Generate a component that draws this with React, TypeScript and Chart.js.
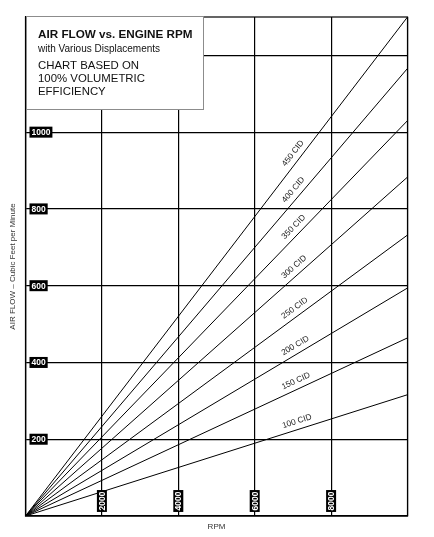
import React, { useEffect, useRef } from "react";
import { Chart, registerables } from "chart.js";

Chart.register(...registerables);

// ---- data ----
const rpmPoints = [0, 10000];
const displacementLabels = ["100 CID", "150 CID", "200 CID", "250 CID", "300 CID", "350 CID", "400 CID", "450 CID"];
const flow100 = [0, 316];
const flow150 = [0, 464];
const flow200 = [0, 594];
const flow250 = [0, 732];
const flow300 = [0, 883];
const flow350 = [0, 1030];
const flow400 = [0, 1166];
const flow450 = [0, 1300];
const flowSeries = [flow100, flow150, flow200, flow250, flow300, flow350, flow400, flow450];

const xTickValues = [0, 2000, 4000, 6000, 8000, 10000];
const xTickLabels = ["2000", "4000", "6000", "8000"];
const yTickValues = [0, 200, 400, 600, 800, 1000, 1200];
const yTickLabels = ["200", "400", "600", "800", "1000", "1200"];

const titleMain = "AIR FLOW vs. ENGINE RPM";
const titleSub = "with Various Displacements";
const titleNote = ["CHART BASED ON", "100% VOLUMETRIC", "EFFICIENCY"];
const xAxisTitle = "RPM";
const yAxisTitle = "AIR FLOW \u2013 Cubic Feet per Minute";

const FONT = '"Liberation Sans", Arial, sans-serif';
const LABEL_RPM_FRACTION = 0.717;

const overlayPlugin = {
  id: "overlay",
  afterDatasetsDraw(chart: any) {
    const { ctx, chartArea } = chart;
    const xs = chart.scales.x;
    const ys = chart.scales.y;
    ctx.save();
    // frame
    ctx.strokeStyle = "#000";
    ctx.lineWidth = 1.2;
    ctx.strokeRect(chartArea.left, chartArea.top, chartArea.right - chartArea.left, chartArea.bottom - chartArea.top);

    // line labels
    ctx.fillStyle = "#222";
    ctx.font = `8.3px ${FONT}`;
    ctx.textAlign = "center";
    ctx.textBaseline = "middle";
    chart.data.datasets.forEach((ds: any, i: number) => {
      const meta = chart.getDatasetMeta(i);
      const p0 = meta.data[0];
      const p1 = meta.data[1];
      const ax = p0.x + (p1.x - p0.x) * LABEL_RPM_FRACTION;
      const ay = p0.y + (p1.y - p0.y) * LABEL_RPM_FRACTION;
      const ang = Math.atan2(p1.y - p0.y, p1.x - p0.x);
      ctx.save();
      ctx.translate(ax, ay);
      ctx.rotate(ang);
      ctx.fillText(ds.label, 0, -8);
      ctx.restore();
    });

    // y tick labels (boxed)
    ctx.font = `bold 8.5px ${FONT}`;
    yTickLabels.forEach((t) => {
      const y = ys.getPixelForValue(Number(t));
      const w = ctx.measureText(t).width + 4;
      const x0 = chartArea.left + 4;
      ctx.fillStyle = "#000";
      ctx.fillRect(x0, y - 5.5, w, 11);
      ctx.fillStyle = "#fff";
      ctx.fillText(t, x0 + w / 2, y + 0.5);
    });

    // x tick labels (boxed, vertical)
    xTickLabels.forEach((t) => {
      const x = xs.getPixelForValue(Number(t));
      const w = ctx.measureText(t).width + 3;
      ctx.save();
      ctx.translate(x, chartArea.bottom - 15);
      ctx.rotate(-Math.PI / 2);
      ctx.fillStyle = "#000";
      ctx.fillRect(-w / 2, -5, w, 10);
      ctx.fillStyle = "#fff";
      ctx.fillText(t, 0, 0.5);
      ctx.restore();
    });

    // axis titles
    ctx.fillStyle = "#333";
    ctx.font = `8px ${FONT}`;
    ctx.fillText(xAxisTitle, (chartArea.left + chartArea.right) / 2, chartArea.bottom + 11);
    ctx.save();
    ctx.translate(13, (chartArea.top + chartArea.bottom) / 2);
    ctx.rotate(-Math.PI / 2);
    ctx.fillText(yAxisTitle, 0, 0);
    ctx.restore();

    // title box
    const bx = chartArea.left + 0.5;
    const by = 16;
    ctx.fillStyle = "#fff";
    ctx.fillRect(bx, by, 177, 93);
    ctx.strokeStyle = "#8c8c8c";
    ctx.lineWidth = 1;
    ctx.strokeRect(bx + 0.5, by + 0.5, 177, 93);
    ctx.fillStyle = "#111";
    ctx.textAlign = "left";
    ctx.textBaseline = "alphabetic";
    ctx.font = `bold 11.7px ${FONT}`;
    ctx.fillText(titleMain, 38, 37.5);
    ctx.font = `10px ${FONT}`;
    ctx.fillText(titleSub, 38, 51.5);
    ctx.font = `11.4px ${FONT}`;
    titleNote.forEach((l, i) => ctx.fillText(l, 38, 68.5 + i * 13.3));
    ctx.restore();
  },
};

export default function App() {
  const ref = useRef<HTMLCanvasElement | null>(null);
  useEffect(() => {
    document.body.style.margin = "0";
    if (!ref.current) return;
    const chart = new Chart(ref.current, {
      type: "line",
      data: {
        datasets: flowSeries.map((s, i) => ({
          label: displacementLabels[i],
          data: rpmPoints.map((r, j) => ({ x: r, y: s[j] })),
          borderColor: "#000",
          borderWidth: 1,
          pointRadius: 0,
          fill: false,
          tension: 0,
        })),
      },
      options: {
        animation: false,
        responsive: true,
        maintainAspectRatio: false,
        layout: { padding: { left: 25.5, right: 26.5, top: 17, bottom: 21 } },
        plugins: { legend: { display: false }, tooltip: { enabled: false }, title: { display: false } },
        scales: {
          x: {
            type: "linear",
            min: 0,
            max: 10000,
            afterBuildTicks: (s: any) => {
              s.ticks = xTickValues.map((v) => ({ value: v }));
            },
            ticks: { display: false },
            grid: { color: "#000", lineWidth: 1.2, drawTicks: false },
            border: { color: "#000", width: 1.2 },
          },
          y: {
            type: "linear",
            min: 0,
            max: 1300,
            afterBuildTicks: (s: any) => {
              s.ticks = yTickValues.map((v) => ({ value: v }));
            },
            ticks: { display: false },
            grid: { color: "#000", lineWidth: 1.2, drawTicks: false },
            border: { color: "#000", width: 1.2 },
          },
        },
      },
      plugins: [overlayPlugin],
    } as any);
    return () => chart.destroy();
  }, []);
  return (
    <div style={{ width: 434, height: 537, position: "relative", background: "#fff" }}>
      <canvas ref={ref} />
    </div>
  );
}
